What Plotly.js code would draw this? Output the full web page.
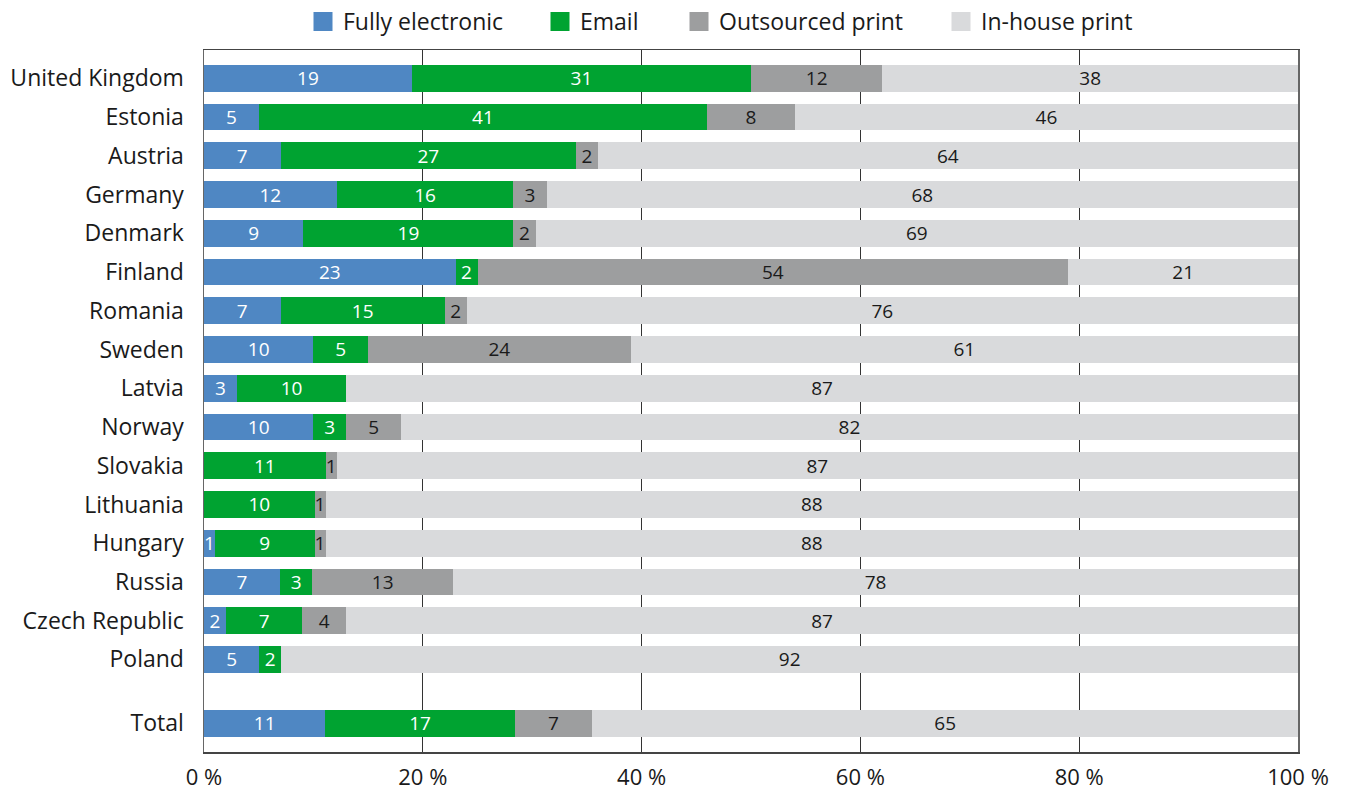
<!DOCTYPE html>
<html>
<head>
<meta charset="utf-8">
<script src="https://cdn.plot.ly/plotly-3.0.1.min.js"></script>
<style>html,body{margin:0;padding:0;background:#fff;}#chart{width:1346px;height:791px;}</style>
</head>
<body>
<div id="chart"></div>
<script>
const categories = ['United Kingdom','Estonia','Austria','Germany','Denmark','Finland','Romania','Sweden','Latvia','Norway','Slovakia','Lithuania','Hungary','Russia','Czech Republic','Poland','Total'];
const fullyElectronic = [19,5,7,12,9,23,7,10,3,10,0,0,1,7,2,5,11.1];
const email           = [31,41,27,16,19,2,15,5,10,3,11,10,9,3,7,2,17.3];
const outsourcedPrint = [12,8,2,3,2,54,2,24,0,5,1,1,1,13,4,0,7.1];
const inHousePrint    = [38,46,64,68,69,21,76,61,87,82,87,88,88,78,87,92,64.5];
const xTickVals = [0,20,40,60,80,100];
const xTickText = ['0 %','20 %','40 %','60 %','80 %','100 %'];

const seriesNames  = ['Fully electronic','Email','Outsourced print','In-house print'];
const seriesValues = [fullyElectronic, email, outsourcedPrint, inHousePrint];
const seriesColors = ['#4f87c3','#00a331','#9d9e9f','#d9dadc'];
const textColors   = ['#ffffff','#ffffff','#1a1a1a','#1a1a1a'];

// legend box left edges (px in the 1346-wide page)
const legendLeft = [303, 540, 679, 941];

// vertical positions: one slot per category, with an extra gap before "Total"
const totalGap = 0.65;
const yPos = categories.map((c, i) => i + (i === categories.length - 1 ? totalGap : 0));

const FONT = 'Open Sans, Noto Sans, sans-serif';
const W = 1346, H = 791;

const traces = [];
seriesNames.forEach((name, k) => {
  traces.push({
    type: 'bar',
    orientation: 'h',
    name: name,
    x: seriesValues[k],
    y: yPos,
    width: 0.69,
    marker: {color: seriesColors[k], line: {width: 0}},
    text: seriesValues[k].map(v => v ? String(Math.round(v)) : ''),
    textposition: 'inside',
    insidetextanchor: 'middle',
    constraintext: 'none',
    textangle: 0,
    textfont: {family: FONT, size: 19, color: textColors[k]},
    hoverinfo: 'skip',
    showlegend: false
  });
});
// legend entries, one small legend each so they can be placed like the reference
const legendIds = ['legend','legend2','legend3','legend4'];
seriesNames.forEach((name, k) => {
  traces.push({
    type: 'scatter',
    mode: 'markers',
    name: name,
    x: [null],
    y: [null],
    legend: legendIds[k],
    marker: {symbol: 'square', size: 16, color: seriesColors[k], line: {width: 3, color: seriesColors[k]}},
    hoverinfo: 'skip',
    showlegend: true
  });
});

const layout = {
  width: W,
  height: H,
  margin: {l: 204, r: 48, t: 50, b: 39},
  paper_bgcolor: '#ffffff',
  plot_bgcolor: '#ffffff',
  barmode: 'stack',
  barnorm: 'percent',
  showlegend: true,
  xaxis: {
    range: [0, 100],
    tickvals: xTickVals,
    ticktext: xTickText,
    showgrid: true,
    gridcolor: '#333333',
    gridwidth: 1,
    zeroline: false,
    showline: true,
    linecolor: '#444444',
    linewidth: 1.5,
    mirror: true,
    ticks: '',
    ticklabelstandoff: 5,
    tickfont: {family: FONT, size: 22, color: '#1a1a1a'},
    fixedrange: true
  },
  yaxis: {
    range: [17.39, -0.73],
    autorange: false,
    tickvals: yPos,
    ticktext: categories,
    showgrid: false,
    zeroline: false,
    showline: true,
    linecolor: '#666666',
    linewidth: 1.5,
    mirror: true,
    ticks: '',
    ticklabelstandoff: 14,
    tickfont: {family: FONT, size: 23, color: '#1a1a1a'},
    fixedrange: true
  }
};
legendIds.forEach((id, k) => {
  layout[id] = {
    orientation: 'h',
    xref: 'container', yref: 'container',
    x: legendLeft[k] / W, xanchor: 'left',
    y: 1.0, yanchor: 'top',
    bgcolor: 'rgba(0,0,0,0)',
    font: {family: FONT, size: 23, color: '#1a1a1a'},
    itemclick: false, itemdoubleclick: false
  };
});

Plotly.newPlot('chart', traces, layout, {staticPlot: true, displayModeBar: false});
</script>
</body>
</html>
